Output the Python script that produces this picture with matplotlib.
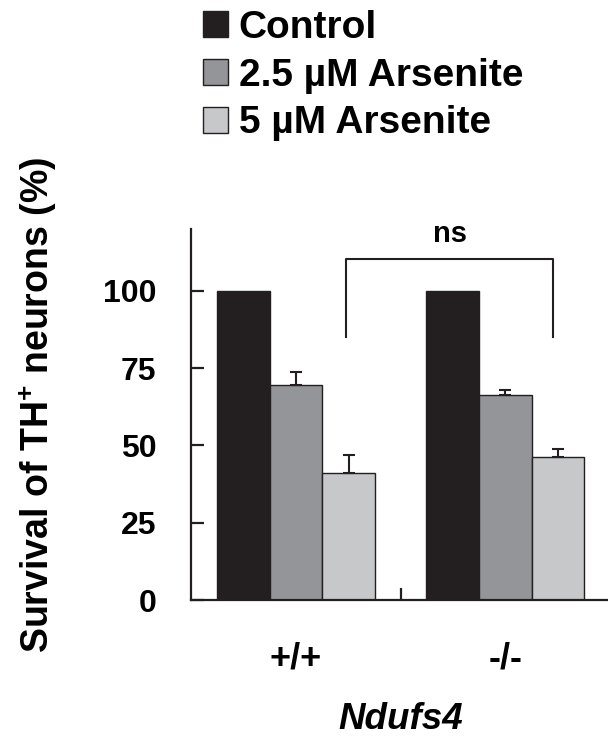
import matplotlib
matplotlib.use("Agg")
import matplotlib.pyplot as plt
from matplotlib.patches import Patch
import numpy as np

plt.rcParams['font.family'] = ['Liberation Sans', 'DejaVu Sans']
plt.rcParams['font.weight'] = 'bold'
plt.rcParams['mathtext.fontset'] = 'custom'
plt.rcParams['mathtext.rm'] = 'Liberation Sans:bold'
plt.rcParams['mathtext.bf'] = 'Liberation Sans:bold'
plt.rcParams['mathtext.it'] = 'Liberation Sans:bold:italic'

genotypes = ['+/+', '-/-']
series = ['Control', '2.5 µM Arsenite', '5 µM Arsenite']
values = {
    'Control': [100, 100],
    '2.5 µM Arsenite': [69.7, 66.4],
    '5 µM Arsenite': [41.2, 46.4],
}
errors = {
    'Control': [0, 0],
    '2.5 µM Arsenite': [3.9, 1.4],
    '5 µM Arsenite': [5.7, 2.5],
}
colors = ['#231f20', '#939598', '#c7c8ca']
yticks = [0, 25, 50, 75, 100]

fig = plt.figure(figsize=(6.08, 7.39), dpi=100)
ax = fig.add_axes([191/608, (739-600)/739, 1 - 191/608, (600-229)/739])

group_centers = np.array([0.0, 3.97])
offsets = [-1, 0, 1]
edge = '#231f20'
for s, c, off in zip(series, colors, offsets):
    x = group_centers + off
    ax.bar(x, values[s], width=1.0, color=c, edgecolor=edge, linewidth=1.0, zorder=2)
    if any(e > 0 for e in errors[s]):
        ax.errorbar(x, values[s], yerr=[np.zeros(2), errors[s]], fmt='none',
                    ecolor=edge, elinewidth=1.5, capsize=4.5, capthick=1.5, zorder=3)

ax.set_xlim(-1.99, 5.92)
ax.set_ylim(0, 120)
ax.spines['top'].set_visible(False)
ax.spines['right'].set_visible(False)
ax.spines['left'].set_linewidth(1.6)
ax.spines['bottom'].set_linewidth(1.6)
ax.spines['left'].set_color(edge)
ax.spines['bottom'].set_color(edge)

ax.set_yticks(yticks)
ax.set_yticklabels([str(t) for t in yticks], fontsize=23, fontweight='bold')
ax.tick_params(axis='y', direction='in', length=9.5, width=1.6, color=edge, pad=25)
ax.set_xticks([group_centers.mean()])
ax.set_xticklabels([''])
ax.tick_params(axis='x', direction='in', length=8.5, width=1.6, color=edge)

for g, c in zip(genotypes, group_centers):
    ax.text(c, -19, g, ha='center', va='center', fontsize=26, fontweight='bold')
ax.text(group_centers.mean(), -38.5, 'Ndufs4', ha='center', va='center',
        fontsize=26.5, fontweight='bold', style='italic')

# significance bracket
bx0, bx1, by, bdrop = 0.95, 4.88, 110.4, 85.2
ax.plot([bx0, bx0, bx1, bx1], [bdrop, by, by, bdrop], color=edge, lw=1.5, clip_on=False)
ax.text((bx0 + bx1) / 2, 118.5, 'ns', ha='center', va='center', fontsize=21, fontweight='bold')

ax.set_ylabel(r'Survival of TH$^{+}$ neurons (%)', fontsize=27, fontweight='bold')
ax.yaxis.set_label_coords(-0.369, 0.526)
ax.yaxis.label.set_va('center')

handles = [Patch(facecolor=c, edgecolor=edge, linewidth=1.0, label=s) for s, c in zip(series, colors)]
leg = fig.legend(handles=handles, loc='upper left', bbox_to_anchor=(203/608, 1 - 10/739),
                 frameon=False, fontsize=28, handlelength=0.64, handleheight=0.64,
                 handletextpad=0.28, labelspacing=0.3, borderaxespad=0, borderpad=0)
for t in leg.get_texts():
    t.set_fontweight('bold')

fig.savefig('out.png', dpi=100)
